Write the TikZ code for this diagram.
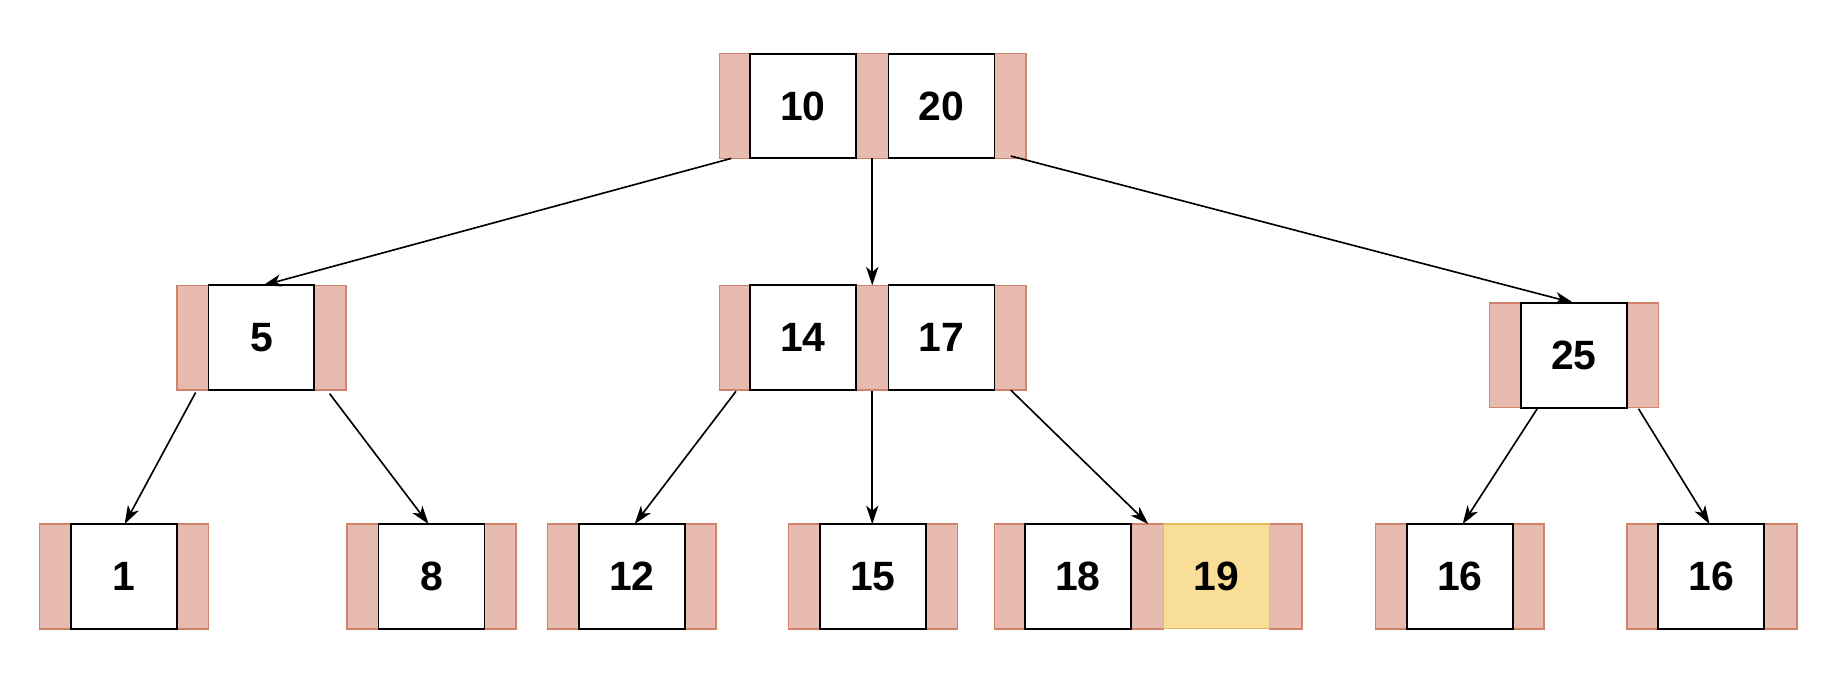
\documentclass[tikz,border=0pt]{standalone}
\usepackage{fontspec}
\setmainfont{Liberation Sans}
\usetikzlibrary{arrows.meta}
\definecolor{padfill}{HTML}{E7BBAF}
\definecolor{padline}{HTML}{D0836A}
\definecolor{yfill}{HTML}{F9DE97}
\definecolor{yline}{HTML}{E2B95B}
\begin{document}
\begin{tikzpicture}[x=0.02cm,y=-0.02cm,
  pad/.style={fill=padfill,draw=padline,line width=0.7pt},
  key/.style={draw=black,fill=white,line width=0.9pt,minimum width=1.82cm,minimum height=1.8cm,inner sep=0pt,font=\fontsize{20}{24}\selectfont\bfseries},
  hl/.style={key,fill=yfill,draw=yline,line width=0.6pt},
  arr/.style={-{Stealth[length=9pt,width=6pt,inset=2.5pt]},line width=0.8pt}]
\useasboundingbox[fill=white] (0,0) rectangle (1568,586);
% pads
\foreach \a/\b/\y in {618/644/46,735/763/46,854/881/46,
  152/179/245,270/297/245,618/644/245,735/763/245,854/881/245,
  1279/1306/260,1397/1424/260,
  34/61/450,152/179/450,298/325/450,416/443/450,470/497/450,588/615/450,
  677/704/450,795/822/450,854/880/450,971/999/450,1090/1118/450,
  1181/1208/450,1299/1326/450,1397/1424/450,1515/1543/450}
  \draw[pad] (\a,\y) rectangle (\b,\y+90);
% keys
\node[key] (k10) at (689.5,91) {10};
\node[key] (k20) at (808.5,91) {20};
\node[key] (k5) at (224.5,290) {5};
\node[key] (k14) at (689.5,290) {14};
\node[key] (k17) at (808.5,290) {17};
\node[key] (k25) at (1351.5,305) {25};
\node[key] (k1) at (106.5,495) {1};
\node[key] (k8) at (370.5,495) {8};
\node[key] (k12) at (542.5,495) {12};
\node[key] (k15) at (749.5,495) {15};
\node[key] (k18) at (925.5,495) {18};
\node[hl] (k19) at (1044.5,495) {19};
\node[key] (k16a) at (1253.5,495) {16};
\node[key] (k16b) at (1469.5,495) {16};
% pointer coordinates
\coordinate (r0) at (628,136); \coordinate (r1) at (749,136); \coordinate (r2) at (868,134);
\coordinate (a0) at (168,337); \coordinate (a1) at (283,338);
\coordinate (b0) at (632,336); \coordinate (b1) at (749,336); \coordinate (b2) at (868,335);
\coordinate (c0) at (1320,351); \coordinate (c1) at (1407,351);
\coordinate (t5) at (226,245); \coordinate (t14) at (749,245); \coordinate (t25) at (1351,260);
\coordinate (t1) at (107,450); \coordinate (t8) at (368,450); \coordinate (t12) at (545,450);
\coordinate (t15) at (749,450); \coordinate (t18) at (986,450);
\coordinate (t16a) at (1256,450); \coordinate (t16b) at (1468,450);
\draw[arr] (r0) -- (t5); \draw[arr] (r1) -- (t14); \draw[arr] (r2) -- (t25);
\draw[arr] (a0) -- (t1); \draw[arr] (a1) -- (t8);
\draw[arr] (b0) -- (t12); \draw[arr] (b1) -- (t15); \draw[arr] (b2) -- (t18);
\draw[arr] (c0) -- (t16a); \draw[arr] (c1) -- (t16b);
\end{tikzpicture}
\end{document}
